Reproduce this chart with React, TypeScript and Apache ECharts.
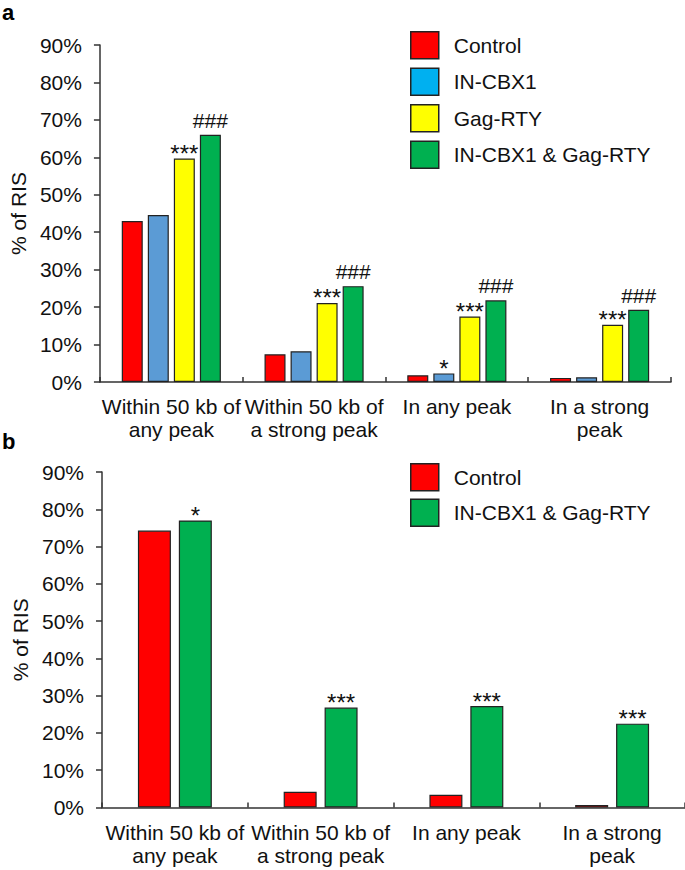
import React, { useEffect, useRef } from "react";
import * as echarts from "echarts";

const categories = [
  "Within 50 kb of\nany peak",
  "Within 50 kb of\na strong peak",
  "In any peak",
  "In a strong\npeak",
];
const yTickMin = 0;
const yTickMax = 90;
const yTickStep = 10;

// Panel a
const aControl = [43.0, 7.4, 1.8, 1.1];
const aINCBX1 = [44.6, 8.2, 2.3, 1.25];
const aGagRTY = [59.7, 21.1, 17.5, 15.3];
const aBoth = [66.0, 25.6, 21.8, 19.3];
const aINCBX1Sig = ["", "", "*", ""];
const aGagRTYSig = ["***", "***", "***", "***"];
const aBothSig = ["###", "###", "###", "###"];

// Panel b
const bControl = [74.3, 4.2, 3.4, 0.7];
const bBoth = [77.0, 26.8, 27.2, 22.5];
const bBothSig = ["*", "***", "***", "***"];

const FONT = "'Liberation Sans', Arial, Helvetica, sans-serif";
const FS = 21;
const RED = "#FF0000";
const BLUE_BAR = "#5B9BD5";
const BLUE_LEG = "#00B0F0";
const YELLOW = "#FFFF00";
const GREEN = "#00B050";
const AXIS = "#333333";
const TEXT = "#111111";
const BORDER = "#222222";

function xAxis(gridIndex: number) {
  return {
    type: "category",
    gridIndex,
    data: categories,
    axisLine: { show: true, lineStyle: { color: AXIS, width: 1.5 } },
    axisTick: { show: true, inside: true, length: 5, lineStyle: { color: AXIS, width: 1.5 } },
    axisLabel: {
      interval: 0,
      fontSize: FS,
      color: TEXT,
      fontFamily: FONT,
      lineHeight: 23,
      margin: 13,
    },
    splitLine: { show: false },
  };
}

function yAxis(gridIndex: number, nameGap: number) {
  return {
    type: "value",
    gridIndex,
    min: yTickMin,
    max: yTickMax,
    interval: yTickStep,
    name: "% of RIS",
    nameLocation: "middle",
    nameGap,
    nameRotate: 90,
    nameTextStyle: { fontSize: FS, color: TEXT, fontFamily: FONT },
    axisLine: { show: true, lineStyle: { color: AXIS, width: 1.5 } },
    axisTick: { show: true, length: 6, lineStyle: { color: AXIS, width: 1.5 } },
    axisLabel: {
      formatter: "{value}%",
      fontSize: FS,
      color: TEXT,
      fontFamily: FONT,
      margin: 18,
    },
    splitLine: { show: false },
  };
}

function sigLabel(sig: string[], fontSize: number, distance: number) {
  return {
    show: true,
    position: "top",
    distance,
    fontSize,
    color: TEXT,
    fontFamily: FONT,
    formatter: (p: any) => sig[p.dataIndex] || "",
  };
}

function legendItem(name: string, color: string) {
  return { name, itemStyle: { color, borderColor: BORDER, borderWidth: 1.5 } };
}

function barSeries(
  name: string,
  data: number[],
  color: string,
  gridIndex: number,
  barWidth: number,
  label?: any
) {
  return {
    type: "bar",
    name,
    data,
    xAxisIndex: gridIndex,
    yAxisIndex: gridIndex,
    barWidth,
    barGap: "24%",
    itemStyle: { color, borderColor: BORDER, borderWidth: 1.2 },
    label: label || { show: false },
  };
}

export default function App() {
  const ref = useRef<HTMLDivElement>(null);

  useEffect(() => {
    if (!ref.current) return;
    const chart = echarts.init(ref.current, undefined, { renderer: "svg" });
    const legendText = {
      fontSize: FS,
      color: TEXT,
      fontFamily: FONT,
      padding: [0, 0, 0, 10],
    };
    chart.setOption({
      animation: false,
      backgroundColor: "#ffffff",
      textStyle: { fontFamily: FONT },
      grid: [
        { left: 88, top: 45, width: 583, height: 337, containLabel: false },
        { left: 102, top: 472, width: 583, height: 335.5, containLabel: false },
      ],
      xAxis: [xAxis(0), xAxis(1)],
      yAxis: [yAxis(0, 68), yAxis(1, 67)],
      legend: [
        {
          orient: "vertical",
          left: 405,
          top: 26,
          icon: "rect",
          itemWidth: 28,
          itemHeight: 27,
          itemGap: 8,
          selectedMode: false,
          textStyle: legendText,
          data: [
            legendItem("Control", RED),
            legendItem("IN-CBX1", BLUE_LEG),
            legendItem("Gag-RTY", YELLOW),
            legendItem("IN-CBX1 & Gag-RTY", GREEN),
          ],
        },
        {
          orient: "vertical",
          left: 405,
          top: 458,
          icon: "rect",
          itemWidth: 28,
          itemHeight: 27,
          itemGap: 7,
          selectedMode: false,
          textStyle: legendText,
          data: [legendItem("Control", RED), legendItem("IN-CBX1 & Gag-RTY", GREEN)],
        },
      ],
      graphic: [
        {
          type: "text",
          left: 2,
          top: 1,
          style: { text: "a", fontSize: 22, fontWeight: "bold", fill: "#000", fontFamily: FONT },
        },
        {
          type: "text",
          left: 2,
          top: 430,
          style: { text: "b", fontSize: 22, fontWeight: "bold", fill: "#000", fontFamily: FONT },
        },
      ],
      series: [
        barSeries("Control", aControl, RED, 0, 21),
        barSeries("IN-CBX1", aINCBX1, BLUE_BAR, 0, 21, sigLabel(aINCBX1Sig, 24, -7)),
        barSeries("Gag-RTY", aGagRTY, YELLOW, 0, 21, sigLabel(aGagRTYSig, 24, -7)),
        barSeries("IN-CBX1 & Gag-RTY", aBoth, GREEN, 0, 21, sigLabel(aBothSig, 21, 4)),
        barSeries("Control", bControl, RED, 1, 33),
        barSeries("IN-CBX1 & Gag-RTY", bBoth, GREEN, 1, 33, sigLabel(bBothSig, 24, -7)),
      ],
    });
    return () => chart.dispose();
  }, []);

  return (
    <div
      ref={ref}
      style={{ position: "fixed", left: 0, top: 0, width: 685, height: 870, background: "#fff" }}
    />
  );
}
